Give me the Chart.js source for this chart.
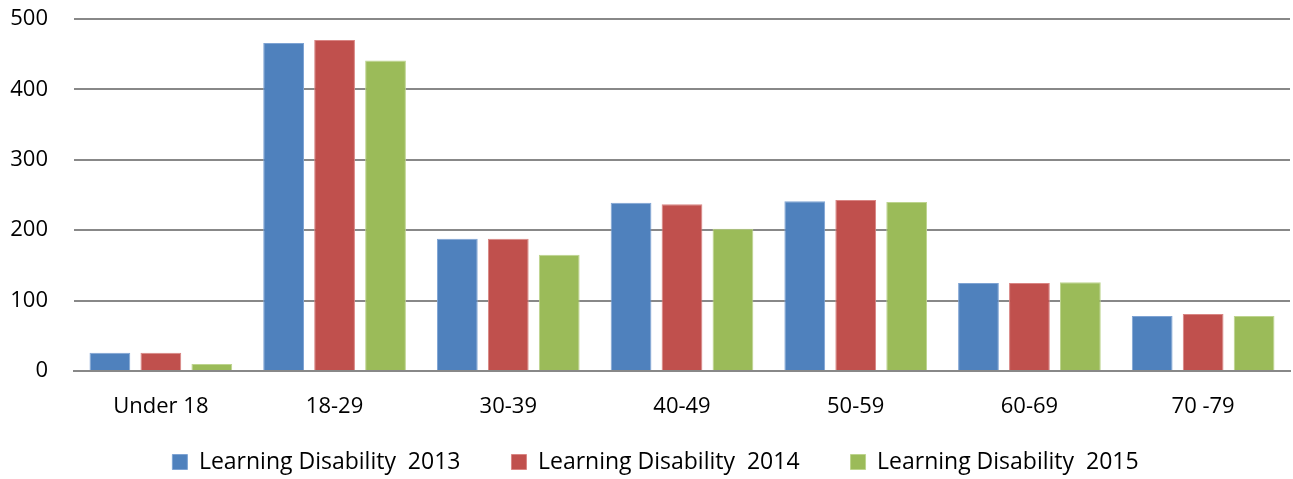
<!DOCTYPE html>
<html>
<head>
<meta charset="utf-8">
<script src="https://cdn.jsdelivr.net/npm/chart.js@4"></script>
<style>
  html, body { margin: 0; padding: 0; background: #fff; }
  #wrap { width: 1293px; height: 479px; }
</style>
</head>
<body>
<div id="wrap"><canvas id="chart" width="1293" height="479"></canvas></div>
<script>
// categories and series
const ageGroups = ['Under 18', '18-29', '30-39', '40-49', '50-59', '60-69', '70 -79'];
const ld2013 = [26, 466, 188, 239, 241, 125, 78];
const ld2014 = [26, 470, 188, 237, 243, 125, 81];
const ld2015 = [10, 441, 165, 202, 240, 126, 78];
const yTicks = [0, 100, 200, 300, 400, 500];

const FONT = '"Open Sans", "Liberation Sans", sans-serif';
const TICK_SIZE = 22;
const LEGEND_SIZE = 23;
const LEGEND_GAP = 51;

function series(label, data, color, edge) {
    return {
        label: label,
        data: data,
        backgroundColor: color,
        borderColor: edge,
        borderWidth: 1,
        barPercentage: 0.8,
        categoryPercentage: 0.88
    };
}

// wide item spacing but a short legend box; move the row to where it sits in the original
const legendBox = {
    id: 'legendBox',
    beforeLayout(chart) {
        const lg = chart.legend;
        if (lg && !lg._patched) {
            const fit = lg.fit;
            lg.fit = function() {
                fit.call(this);
                this.height = 58;
            };
            lg._patched = true;
        }
    },
    afterLayout(chart) {
        const lg = chart.legend;
        lg.top = 462 - LEGEND_GAP - LEGEND_SIZE / 2;
        lg.bottom = chart.height;
        lg.height = lg.bottom - lg.top;
        // row sits a little right of centre in the original
        lg.left += 18;
        lg.right = Math.min(lg.right + 18, chart.width);
        lg.width = lg.right - lg.left;
    }
};

const ctx = document.getElementById('chart').getContext('2d');
new Chart(ctx, {
    type: 'bar',
    data: {
        labels: ageGroups,
        datasets: [
            series('Learning Disability  2013', ld2013, '#4F81BD', '#7EA3D3'),
            series('Learning Disability  2014', ld2014, '#C0504D', '#D98583'),
            series('Learning Disability  2015', ld2015, '#9BBB59', '#BDD48E')
        ]
    },
    plugins: [legendBox],
    options: {
        responsive: false,
        animation: false,
        layout: { padding: { top: 0, right: 3, left: 0, bottom: 0 } },
        plugins: {
            legend: {
                position: 'bottom',
                labels: {
                    font: { family: FONT, size: LEGEND_SIZE },
                    color: '#000',
                    boxWidth: 15,
                    boxHeight: 15,
                    padding: LEGEND_GAP,
                    useBorderRadius: false
                }
            },
            tooltip: { enabled: false }
        },
        scales: {
            x: {
                grid: { display: false, drawTicks: false },
                border: { display: true, color: '#888888', width: 2 },
                ticks: {
                    font: { family: FONT, size: TICK_SIZE },
                    color: '#000',
                    padding: 23,
                    maxRotation: 0
                },
                afterFit: function(scale) { scale.height = 50; }
            },
            y: {
                min: 0,
                max: 500,
                afterBuildTicks: function(scale) {
                    scale.ticks = yTicks.map(v => ({ value: v }));
                },
                grid: { color: '#888888', lineWidth: 2, drawTicks: false },
                border: { display: false },
                ticks: {
                    font: { family: FONT, size: TICK_SIZE },
                    color: '#000',
                    padding: 26
                },
                afterFit: function(scale) {
                    scale.width = 74;
                    scale.paddingTop = 19;
                    scale.paddingBottom = 0;
                }
            }
        }
    }
});
</script>
</body>
</html>
